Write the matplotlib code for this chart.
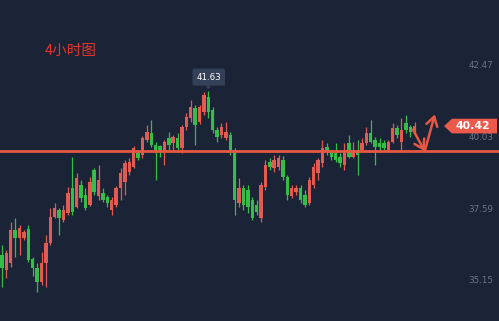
import matplotlib
matplotlib.use("Agg")
import matplotlib.pyplot as plt
from matplotlib.patches import Polygon, FancyBboxPatch
import numpy as np

# 4h candles (open, high, low, close)
opens = [36.02, 35.51, 35.75, 36.87, 36.59, 36.59, 36.91, 35.88, 35.57, 35.10,
         35.75, 36.43, 37.32, 37.55, 37.21, 37.45, 38.31, 37.66, 38.41, 38.07,
         37.73, 38.92, 38.03, 38.14, 38.00, 37.55, 37.73, 38.31, 38.51, 38.85,
         39.02, 39.50, 39.43, 39.94, 40.18, 39.77, 39.74, 39.60, 40.01, 39.84,
         40.01, 39.67, 40.39, 40.70, 41.04, 40.56, 40.90, 41.41, 40.97, 40.29,
         40.12, 40.01, 40.12, 39.60, 37.79, 38.31, 38.24, 37.90, 37.73, 37.28,
         38.34, 39.19, 38.99, 39.02, 39.26, 38.68, 38.03, 38.17, 38.31, 38.07,
         37.79, 38.41, 38.82, 39.16, 39.70, 39.53, 39.50, 39.36, 39.09, 39.84,
         39.36, 39.60, 39.60, 39.84, 40.18, 39.94, 39.84, 39.84, 39.60, 39.88,
         40.35, 39.88, 40.52, 40.39, 40.22]
highs = [36.36, 36.19, 37.15, 37.28, 37.04, 36.87, 37.04, 35.95, 35.75, 36.12,
         36.70, 37.62, 37.79, 37.62, 37.73, 38.34, 39.36, 38.82, 38.58, 38.31,
         38.68, 38.99, 39.09, 38.31, 38.07, 38.00, 38.38, 38.99, 39.26, 39.33,
         39.74, 39.60, 40.08, 40.46, 40.63, 39.88, 39.77, 39.94, 40.22, 40.12,
         40.18, 40.46, 40.87, 41.31, 41.14, 41.14, 41.58, 41.63, 41.07, 40.39,
         40.52, 40.56, 40.22, 39.67, 38.65, 38.41, 38.41, 38.00, 37.90, 38.51,
         39.26, 39.33, 39.43, 39.43, 39.40, 38.75, 38.41, 38.41, 38.41, 38.24,
         38.68, 39.16, 39.33, 39.94, 39.84, 39.60, 39.84, 39.50, 39.84, 40.12,
         39.88, 39.94, 40.01, 40.39, 40.63, 40.05, 40.01, 39.94, 39.94, 40.52,
         40.46, 40.70, 40.80, 40.46, 40.56]
lows = [34.93, 35.24, 35.61, 35.95, 36.02, 36.53, 35.78, 35.30, 34.76, 35.00,
        34.93, 36.36, 37.28, 36.70, 37.15, 37.38, 37.38, 37.62, 37.83, 37.55,
        37.69, 38.07, 37.90, 37.83, 37.66, 37.38, 37.66, 37.90, 38.07, 38.75,
        38.99, 39.26, 39.33, 39.88, 39.70, 38.58, 39.36, 39.09, 39.53, 39.60,
        39.60, 39.50, 40.29, 40.56, 39.77, 40.49, 40.80, 40.70, 40.18, 39.88,
        40.01, 39.94, 39.43, 37.38, 37.66, 37.55, 37.45, 37.21, 37.38, 37.15,
        38.24, 38.92, 38.85, 38.92, 38.58, 37.90, 37.97, 38.07, 37.79, 37.66,
        37.73, 38.31, 38.58, 39.02, 39.43, 39.26, 39.19, 39.02, 38.92, 39.33,
        39.33, 38.75, 39.53, 39.77, 39.84, 39.09, 39.53, 39.60, 39.53, 39.84,
        40.01, 39.53, 40.18, 40.05, 40.12]
closes = [35.57, 36.09, 36.87, 36.59, 36.94, 36.80, 35.85, 35.57, 35.10, 35.75,
          36.43, 37.32, 37.62, 37.28, 37.55, 38.14, 37.49, 38.65, 37.97, 37.62,
          38.51, 38.17, 38.58, 37.90, 37.79, 37.90, 38.31, 38.82, 39.16, 39.19,
          39.67, 39.33, 40.01, 40.22, 39.77, 39.60, 39.60, 39.88, 39.77, 40.05,
          39.67, 40.39, 40.73, 41.07, 40.46, 41.07, 41.48, 40.90, 40.29, 40.05,
          40.39, 40.22, 39.60, 37.90, 38.31, 37.73, 37.66, 37.28, 37.49, 38.41,
          39.09, 39.02, 39.26, 39.33, 38.68, 38.07, 38.31, 38.31, 37.90, 37.73,
          38.58, 39.02, 39.26, 39.67, 39.53, 39.36, 39.26, 39.16, 39.50, 39.36,
          39.60, 39.43, 39.84, 40.18, 39.88, 39.70, 39.70, 39.67, 39.88, 40.35,
          40.12, 40.29, 40.29, 40.22, 40.42]

axis_ticks = [42.47, 40.03, 37.59, 35.15]
support = 39.56
peak_label = "41.63"
last_label = "40.42"
title = "4小时图"

BG = "#1b2336"
UP = "#e25a50"
DOWN = "#35bd4a"
LINE = "#e65843"

fig = plt.figure(figsize=(4.99, 3.21), dpi=100, facecolor=BG)
ax = fig.add_axes([0, 0, 1, 1])
ax.set_facecolor(BG)
ax.set_axis_off()

n = len(opens)
idx = np.arange(n)
step = 4.39  # px per candle
x0 = -2 / step
ax.set_xlim(x0, x0 + 499 / step)
ax.set_ylim(33.77, 44.72)

o = np.array(opens)
c = np.array(closes)
colors = [UP if cc >= oo else DOWN for oo, cc in zip(o, c)]
ax.vlines(idx, lows, highs, colors=colors, linewidth=0.9, zorder=2)
ax.bar(idx, np.maximum(np.abs(c - o), 0.07), bottom=np.minimum(o, c),
       width=0.78, color=colors, linewidth=0, zorder=3)

# support line
ax.axhline(support, color=LINE, linewidth=2.0, zorder=4)

# price scale labels on the right
for t in axis_ticks:
    ax.text(481 / 499, t, f"{t:.2f}", transform=ax.get_yaxis_transform(),
            ha="center", va="center", color="#6b7386", fontsize=6.3)

# zig-zag arrow after the last candle
last = n - 1
p_start = (last - 0.4, closes[-1] - 0.12)
p_turn = (last + 2.3, support)
p_top = (last + 4.6, 40.82)
arrow_kw = dict(arrowstyle="->,head_length=0.65,head_width=0.4",
                color=LINE, lw=1.8, shrinkA=0, shrinkB=0)
ax.annotate("", xy=p_turn, xytext=p_start, arrowprops=arrow_kw, zorder=5)
ax.annotate("", xy=p_top, xytext=p_turn, arrowprops=arrow_kw, zorder=5)

# last price tag
yl = closes[-1]
tr = ax.get_yaxis_transform()
h = 0.25
tag = Polygon([(444 / 499, yl), (452 / 499, yl + h), (497 / 499, yl + h),
               (497 / 499, yl - h), (452 / 499, yl - h)],
              closed=True, transform=tr, facecolor="#ec5a4c", edgecolor="none",
              zorder=6)
ax.add_patch(tag)
ax.text(473 / 499, yl, last_label, transform=tr, ha="center", va="center",
        color="white", fontsize=7.8, fontweight="bold", zorder=7)

# peak tooltip
pk = int(np.argmax(highs))
ptop = highs[pk] + 0.17
box = FancyBboxPatch((pk - 3.6, ptop), 7.4, 0.58,
                     boxstyle="round,pad=0,rounding_size=0.3",
                     facecolor="#344058", edgecolor="none", zorder=6,
                     mutation_aspect=0.2)
ax.add_patch(box)
ax.add_patch(Polygon([(pk - 0.6, ptop), (pk + 0.6, ptop), (pk, ptop - 0.14)],
                     closed=True, facecolor="#344058", edgecolor="none", zorder=6))
ax.text(pk + 0.1, ptop + 0.29, peak_label, ha="center", va="center",
        color="white", fontsize=6.3, zorder=7)

ax.text(45 / 499, 1 - 51 / 321, title, transform=ax.transAxes,
        ha="left", va="center", color="#e8332b", fontsize=10.5,
        family=["Noto Sans CJK SC", "DejaVu Sans"])

fig.savefig("out.png", dpi=100, facecolor=BG)
